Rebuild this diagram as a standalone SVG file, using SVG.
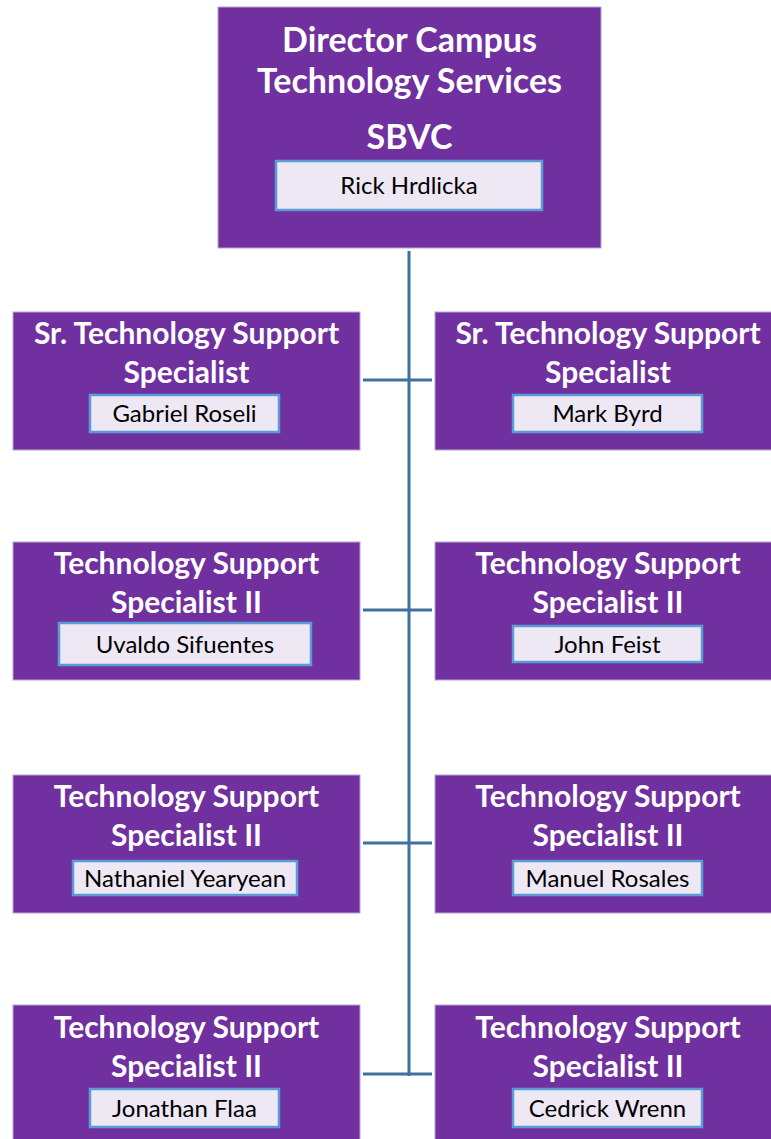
<svg xmlns="http://www.w3.org/2000/svg" width="771" height="1139" viewBox="0 0 771 1139">
<style>
.box{fill:#7030A0;stroke:#B9A3D0;stroke-width:1}
.nb{fill:#EDE8F3;stroke:#5B9BD5;stroke-width:2.5}
.t{font-family:Lato,"Liberation Sans",sans-serif;font-weight:bold;fill:#fff;text-anchor:middle;font-size:30px}
.th{font-size:34px}
.n{font-family:Lato,"Liberation Sans",sans-serif;fill:#000;text-anchor:middle;font-size:24px}
.c{stroke:#41719C;stroke-width:3;fill:none}
</style>
<rect width="771" height="1139" fill="#fff"/>
<g id="connectors">
<line class="c" x1="409" y1="251" x2="409" y2="1076"/>
<line class="c" x1="363" y1="380" x2="432" y2="380"/>
<line class="c" x1="363" y1="610" x2="432" y2="610"/>
<line class="c" x1="363" y1="843" x2="432" y2="843"/>
<line class="c" x1="363" y1="1074" x2="432" y2="1074"/>
</g>
<g id="director">
<rect class="box" x="218" y="7" width="383" height="241"/>
<text class="t th" x="409.5" y="52">Director Campus</text>
<text class="t th" x="409.5" y="93">Technology Services</text>
<text class="t th" x="409.5" y="149">SBVC</text>
<rect class="nb" x="276" y="161" width="266" height="49"/>
<text class="n" x="409" y="194">Rick Hrdlicka</text>
</g>
<g id="n1l">
<rect class="box" x="13" y="312" width="347" height="138"/>
<text class="t" x="186.5" y="344">Sr. Technology Support</text>
<text class="t" x="186.5" y="383">Specialist</text>
<rect class="nb" x="90" y="395" width="189" height="37"/>
<text class="n" x="184.5" y="422">Gabriel Roseli</text>
</g>
<g id="n1r">
<rect class="box" x="435" y="312" width="345" height="138"/>
<text class="t" x="608" y="344">Sr. Technology Support</text>
<text class="t" x="608" y="383">Specialist</text>
<rect class="nb" x="513" y="395" width="189" height="37"/>
<text class="n" x="607.5" y="422">Mark Byrd</text>
</g>
<g id="n2l">
<rect class="box" x="13" y="542" width="347" height="138"/>
<text class="t" x="186.5" y="574">Technology Support</text>
<text class="t" x="186.5" y="613">Specialist II</text>
<rect class="nb" x="59" y="623" width="252" height="42"/>
<text class="n" x="185" y="653">Uvaldo Sifuentes</text>
</g>
<g id="n2r">
<rect class="box" x="435" y="542" width="345" height="138"/>
<text class="t" x="608" y="574">Technology Support</text>
<text class="t" x="608" y="613">Specialist II</text>
<rect class="nb" x="513" y="626" width="189" height="36"/>
<text class="n" x="607.5" y="653">John Feist</text>
</g>
<g id="n3l">
<rect class="box" x="13" y="775" width="347" height="138"/>
<text class="t" x="186.5" y="807">Technology Support</text>
<text class="t" x="186.5" y="846">Specialist II</text>
<rect class="nb" x="73" y="861" width="224" height="34"/>
<text class="n" x="185" y="887">Nathaniel Yearyean</text>
</g>
<g id="n3r">
<rect class="box" x="435" y="775" width="345" height="138"/>
<text class="t" x="608" y="807">Technology Support</text>
<text class="t" x="608" y="846">Specialist II</text>
<rect class="nb" x="513" y="861" width="189" height="34"/>
<text class="n" x="607.5" y="887">Manuel Rosales</text>
</g>
<g id="n4l">
<rect class="box" x="13" y="1005" width="347" height="140"/>
<text class="t" x="186.5" y="1038">Technology Support</text>
<text class="t" x="186.5" y="1077">Specialist II</text>
<rect class="nb" x="90" y="1089" width="189" height="38"/>
<text class="n" x="184.5" y="1117">Jonathan Flaa</text>
</g>
<g id="n4r">
<rect class="box" x="435" y="1005" width="345" height="140"/>
<text class="t" x="608" y="1038">Technology Support</text>
<text class="t" x="608" y="1077">Specialist II</text>
<rect class="nb" x="513" y="1089" width="189" height="38"/>
<text class="n" x="607.5" y="1117">Cedrick Wrenn</text>
</g>
</svg>
